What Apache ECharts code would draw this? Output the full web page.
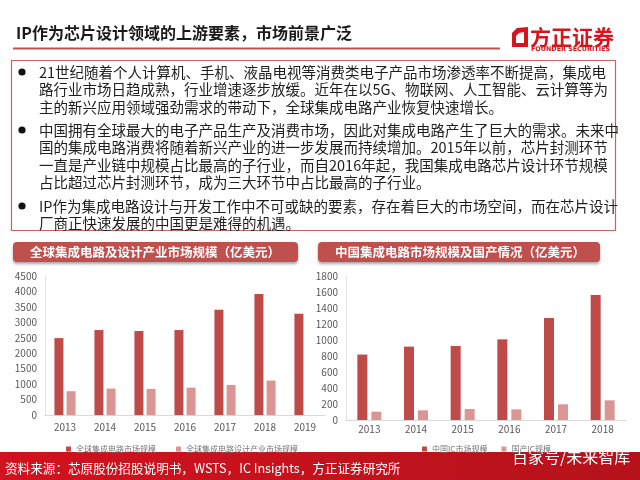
<!DOCTYPE html>
<html><head><meta charset="utf-8">
<script src="https://cdn.jsdelivr.net/npm/echarts@6/dist/echarts.min.js"></script>
<style>html,body{margin:0;padding:0;background:#fff}#c{width:640px;height:480px}</style>
</head><body><div id="c"></div>
<script>
// ---- data ----
const globalYears = ['2013','2014','2015','2016','2017','2018','2019'];
const globalIC = [2490, 2750, 2720, 2750, 3410, 3915, 3280];
const globalDesign = [770, 855, 845, 885, 975, 1115, null];
const chinaYears = ['2013','2014','2015','2016','2017','2018'];
const chinaIC = [818, 917, 925, 1008, 1275, 1562];
const chinaDomestic = [104, 121, 137, 133, 196, 246];
const seriesNames = ['全球集成电路市场规模','全球集成电路设计产业市场规模','中国IC市场规模','国产IC规模'];
const titleText = 'IP作为芯片设计领域的上游要素，市场前景广泛';
const leftHeader = '全球集成电路及设计产业市场规模（亿美元）';
const rightHeader = '中国集成电路市场规模及国产情况（亿美元）';
const footerText = '资料来源：芯原股份招股说明书，WSTS，IC Insights，方正证券研究所';
const paragraphs = [
  ['21世纪随着个人计算机、手机、液晶电视等消费类电子产品市场渗透率不断提高，集成电',
   '路行业市场日趋成熟，行业增速逐步放缓。近年在以5G、物联网、人工智能、云计算等为',
   '主的新兴应用领域强劲需求的带动下，全球集成电路产业恢复快速增长。'],
  ['中国拥有全球最大的电子产品生产及消费市场，因此对集成电路产生了巨大的需求。未来中',
   '国的集成电路消费将随着新兴产业的进一步发展而持续增加。2015年以前，芯片封测环节',
   '一直是产业链中规模占比最高的子行业，而自2016年起，我国集成电路芯片设计环节规模',
   '占比超过芯片封测环节，成为三大环节中占比最高的子行业。'],
  ['IP作为集成电路设计与开发工作中不可或缺的要素，存在着巨大的市场空间，而在芯片设计',
   '厂商正快速发展的中国更是难得的机遇。']
];

const FONT = '"Noto Sans CJK SC",sans-serif';
const DARK = '#be4b48', LIGHT = '#d99694';

const graphics = [];
// title
graphics.push({type:'text', style:{text:titleText, x:16, y:33, font:'bold 16px '+FONT, fill:'#1a1a1a', verticalAlign:'middle'}});
graphics.push({type:'rect', shape:{x:13, y:47.5, width:487, height:2}, style:{fill:'#c0504d'}});
// logo
graphics.push({type:'polygon', shape:{points:[[517,28],[528,27],[528,47],[512,47],[512,33]]}, style:{fill:'#d7141b'}});
graphics.push({type:'polygon', shape:{points:[[519,33],[524,32],[524,43],[516,43],[516,36]]}, style:{fill:'#fff'}});
graphics.push({type:'text', style:{text:'方正证券', x:530, y:37, font:'bold 21px '+FONT, fill:'#d7141b', verticalAlign:'middle'}});
graphics.push({type:'text', style:{text:'FOUNDER SECURITIES', x:531, y:49.5, font:'bold 6.4px "DejaVu Sans",sans-serif', fill:'#d7141b', verticalAlign:'middle'}});
// text box
graphics.push({type:'rect', shape:{x:11.5, y:60.5, width:604, height:170}, style:{fill:'none', stroke:'#c66461', lineWidth:1.2}});
const lineYs = [[72,89.5,107],[130,147.5,165,182.5],[206,223.5]];
paragraphs.forEach((p, i) => {
  graphics.push({type:'circle', shape:{cx:22, cy:lineYs[i][0], r:3.6}, style:{fill:'#111'}});
  p.forEach((ln, j) => {
    graphics.push({type:'text', style:{text:ln, x:39, y:lineYs[i][j], font:'14.5px '+FONT, fill:'#1e1e1e', verticalAlign:'middle'}});
  });
});
// headers
graphics.push({type:'rect', shape:{x:13, y:242, width:285, height:20, r:4}, style:{fill:'#c0504d', shadowBlur:3, shadowOffsetY:2, shadowColor:'rgba(0,0,0,0.35)'}});
graphics.push({type:'text', style:{text:leftHeader, x:155, y:252, font:'bold 12.5px '+FONT, fill:'#fff', align:'center', verticalAlign:'middle'}});
graphics.push({type:'rect', shape:{x:318, y:242, width:282, height:20, r:4}, style:{fill:'#c0504d', shadowBlur:3, shadowOffsetY:2, shadowColor:'rgba(0,0,0,0.35)'}});
graphics.push({type:'text', style:{text:rightHeader, x:335, y:252, font:'bold 12.5px '+FONT, fill:'#fff', verticalAlign:'middle'}});
// footer
graphics.push({type:'rect', shape:{x:0, y:452, width:640, height:28}, style:{fill:{type:'linear', x:0, y:0, x2:1, y2:0, colorStops:[{offset:0,color:'#d2121e'},{offset:1,color:'#b5121b'}]}}});
graphics.push({type:'text', style:{text:footerText, x:5, y:468, font:'12.6px '+FONT, fill:'#fff', verticalAlign:'middle'}});
graphics.push({type:'text', style:{text:'百家号/未来智库', x:512, y:457, font:'16px '+FONT, fill:'#fff', verticalAlign:'middle'}});

const axisLabel = {color:'#595959', fontSize:10, fontFamily:'Noto Sans CJK SC'};
const plain = v => String(v);
const chart = echarts.init(document.getElementById('c'));
chart.setOption({
  animation:false,
  backgroundColor:'#fff',
  graphic: graphics,
  grid:[
    {left:45, top:276, width:280, height:139},
    {left:346, top:276, width:280, height:144}
  ],
  legend:[
    {data:[seriesNames[0], seriesNames[1]], left:61, top:440, itemWidth:5, itemHeight:5, itemGap:20, icon:'rect', textStyle:{fontSize:8, color:'#767676', fontFamily:'Noto Sans CJK SC'}},
    {data:[seriesNames[2], seriesNames[3]], left:417, top:440, itemWidth:5, itemHeight:5, itemGap:14, icon:'rect', textStyle:{fontSize:8, color:'#767676', fontFamily:'Noto Sans CJK SC'}}
  ],
  xAxis:[
    {type:'category', gridIndex:0, data:globalYears, axisTick:{show:false}, axisLine:{lineStyle:{color:'#d9d9d9'}}, axisLabel:Object.assign({margin:7}, axisLabel)},
    {type:'category', gridIndex:1, data:chinaYears, axisTick:{show:false}, axisLine:{lineStyle:{color:'#d9d9d9'}}, axisLabel:Object.assign({margin:4}, axisLabel)}
  ],
  yAxis:[
    {type:'value', gridIndex:0, min:0, max:4500, interval:500, axisLine:{show:true, lineStyle:{color:'#e3e3e3'}}, axisTick:{show:false}, splitLine:{show:false}, axisLabel:Object.assign({margin:8, formatter:plain}, axisLabel)},
    {type:'value', gridIndex:1, min:0, max:1800, interval:200, axisLine:{show:true, lineStyle:{color:'#e3e3e3'}}, axisTick:{show:false}, splitLine:{show:false}, axisLabel:Object.assign({margin:8, formatter:plain}, axisLabel)}
  ],
  series:[
    {name:seriesNames[0], type:'bar', xAxisIndex:0, yAxisIndex:0, data:globalIC, barWidth:9, barGap:'35%', itemStyle:{color:DARK}},
    {name:seriesNames[1], type:'bar', xAxisIndex:0, yAxisIndex:0, data:globalDesign, barWidth:9, barGap:'35%', itemStyle:{color:LIGHT}},
    {name:seriesNames[2], type:'bar', xAxisIndex:1, yAxisIndex:1, data:chinaIC, barWidth:10, barGap:'40%', itemStyle:{color:DARK}},
    {name:seriesNames[3], type:'bar', xAxisIndex:1, yAxisIndex:1, data:chinaDomestic, barWidth:10, barGap:'40%', itemStyle:{color:LIGHT}}
  ]
});
</script></body></html>
